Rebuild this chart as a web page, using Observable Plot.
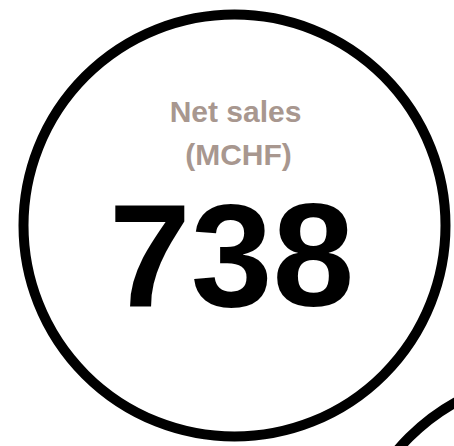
<!DOCTYPE html>
<html>
<head>
<meta charset="utf-8">
<script src="https://cdn.jsdelivr.net/npm/d3@7"></script>
<script src="https://cdn.jsdelivr.net/npm/@observablehq/plot@0.6"></script>
<style>
  html, body { margin: 0; padding: 0; background: #fff; }
</style>
</head>
<body>
<div id="chart"></div>
<script>
// Bubbles (centre x, centre y, radius in px)
const bubbleX = [234, 558];
const bubbleY = [225, 586];
const bubbleR = [211, 211];

// Labels
const labelLines = ["Net sales", "(MCHF)"];
const labelX = [235, 238];
const labelY = [121, 164];
const valueText = ["738"];
const valueX = [231];
const valueY = [305];

const bubbles = bubbleX.map((x, i) => ({x, y: bubbleY[i], r: bubbleR[i]}));
const labels = labelLines.map((t, i) => ({t, x: labelX[i], y: labelY[i]}));
const values = valueText.map((t, i) => ({t, x: valueX[i], y: valueY[i]}));

const chart = Plot.plot({
  width: 454,
  height: 446,
  margin: 0,
  x: {domain: [0, 454], range: [0, 454], axis: null},
  y: {domain: [0, 446], range: [0, 446], axis: null},
  r: {type: "identity"},
  style: {fontFamily: "Liberation Sans, Arial, sans-serif", background: "#fff"},
  marks: [
    Plot.dot(bubbles, {x: "x", y: "y", r: "r", stroke: "#000", strokeWidth: 10, fill: "none"}),
    Plot.text(labels, {x: "x", y: "y", text: "t", fontSize: 30, fontWeight: "bold", fill: "#a8978f", textAnchor: "middle", lineAnchor: "bottom"}),
    Plot.text(values, {x: "x", y: "y", text: "t", fontSize: 147, fontWeight: "bold", fill: "#000", textAnchor: "middle", lineAnchor: "bottom"})
  ]
});
document.getElementById("chart").appendChild(chart);
</script>
</body>
</html>
